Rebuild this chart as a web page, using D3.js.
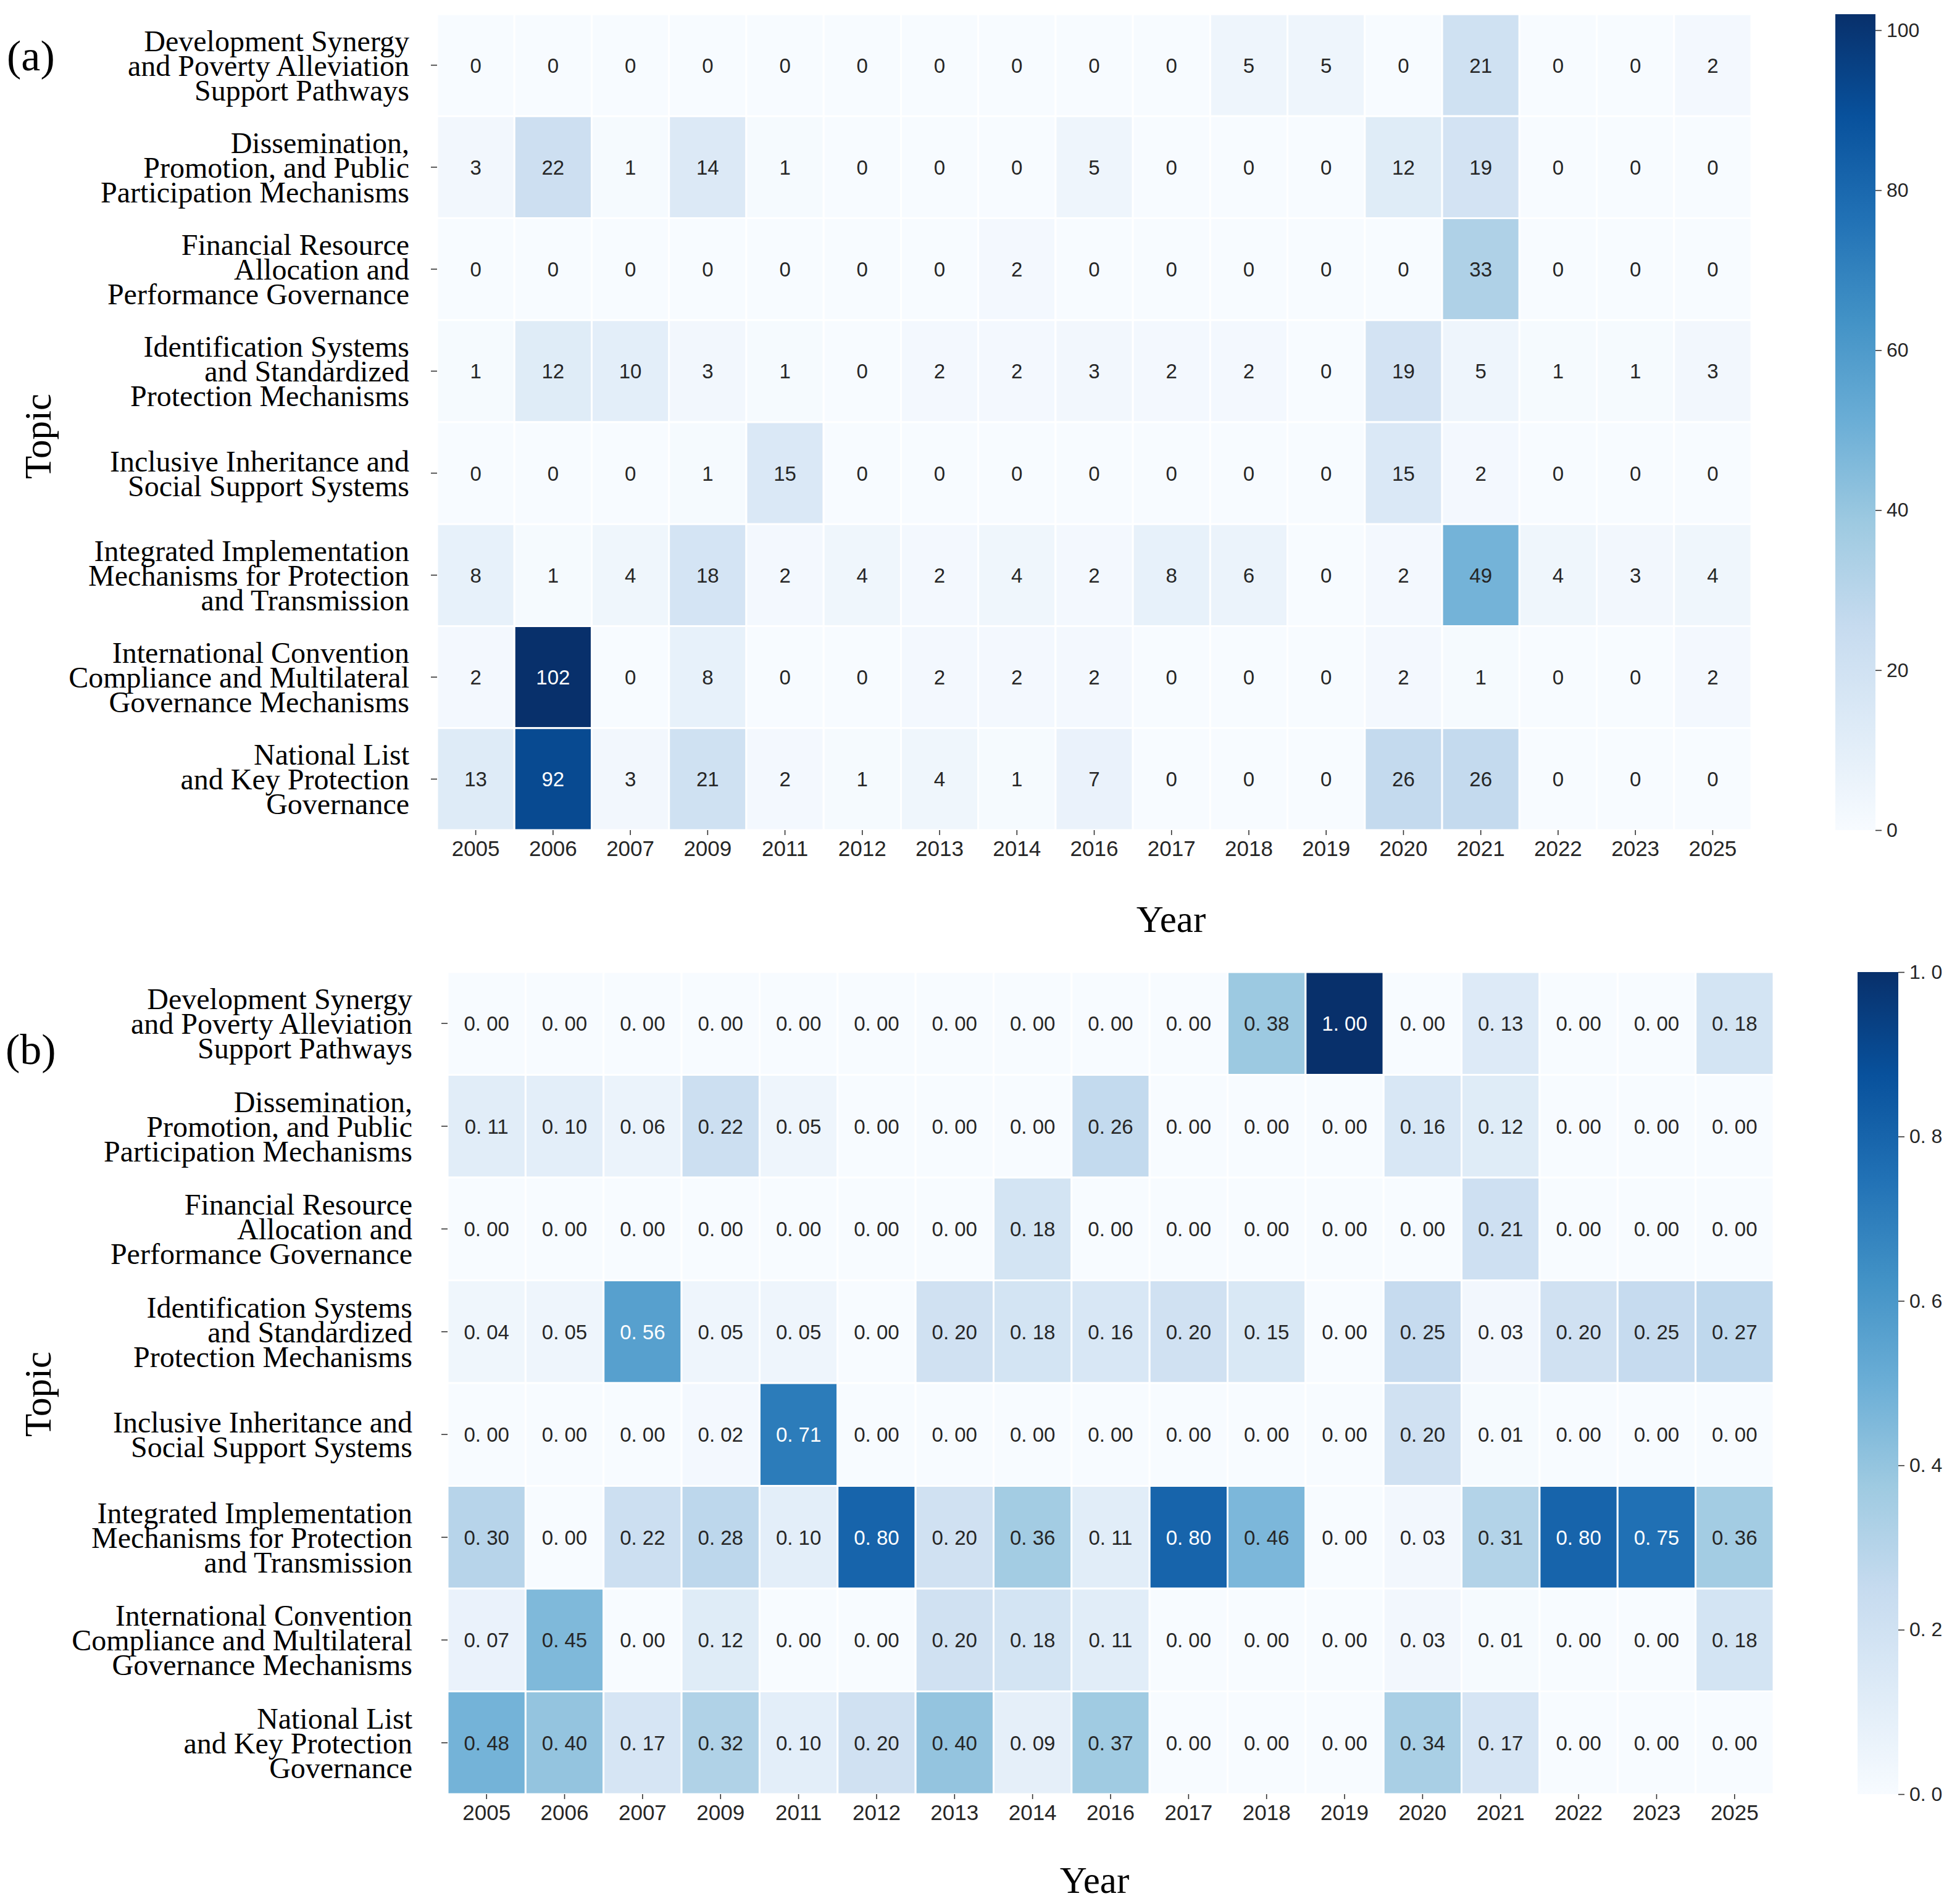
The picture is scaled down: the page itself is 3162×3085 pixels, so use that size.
<!DOCTYPE html>
<html lang="en">
<head>
  <meta charset="UTF-8">
  <title>Topic by Year Heatmaps</title>
  <script src="https://d3js.org/d3.v7.min.js"></script>
  <style>
    body {
      margin: 0;
      background-color: #ffffff;
    }
    svg {
      display: block;
    }
    .row-label {
      font-family: 'Liberation Serif', 'Times New Roman', serif;
      font-size: 48px;
      fill: #000000;
    }
    .axis-title {
      font-family: 'Liberation Serif', 'Times New Roman', serif;
      font-size: 61px;
      fill: #000000;
    }
    .panel-tag {
      font-family: 'Liberation Serif', 'Times New Roman', serif;
      font-size: 70px;
      fill: #000000;
    }
    .cell-text {
      font-family: 'Liberation Sans', Arial, sans-serif;
      font-size: 33px;
    }
    .year-axis text {
      font-family: 'Liberation Sans', Arial, sans-serif;
      font-size: 35px;
      fill: #262626;
    }
    .cbar-axis text {
      font-family: 'Liberation Sans', Arial, sans-serif;
      font-size: 32px;
      fill: #262626;
    }
    .tick line {
      stroke: #333333;
      stroke-width: 1.6px;
    }
  </style>
</head>
<body>
  <svg width="3162" height="3085"></svg>
  <script>
    // ---- data ----
    const years = ["2005", "2006", "2007", "2009", "2011", "2012", "2013", "2014", "2016",
                   "2017", "2018", "2019", "2020", "2021", "2022", "2023", "2025"];

    const topics = [
      ["Development Synergy", "and Poverty Alleviation", "Support Pathways"],
      ["Dissemination,", "Promotion, and Public", "Participation Mechanisms"],
      ["Financial Resource", "Allocation and", "Performance Governance"],
      ["Identification Systems", "and Standardized", "Protection Mechanisms"],
      ["Inclusive Inheritance and", "Social Support Systems"],
      ["Integrated Implementation", "Mechanisms for Protection", "and Transmission"],
      ["International Convention", "Compliance and Multilateral", "Governance Mechanisms"],
      ["National List", "and Key Protection", "Governance"]
    ];

    // (a) counts
    const counts = [
      [0, 0, 0, 0, 0, 0, 0, 0, 0, 0, 5, 5, 0, 21, 0, 0, 2],
      [3, 22, 1, 14, 1, 0, 0, 0, 5, 0, 0, 0, 12, 19, 0, 0, 0],
      [0, 0, 0, 0, 0, 0, 0, 2, 0, 0, 0, 0, 0, 33, 0, 0, 0],
      [1, 12, 10, 3, 1, 0, 2, 2, 3, 2, 2, 0, 19, 5, 1, 1, 3],
      [0, 0, 0, 1, 15, 0, 0, 0, 0, 0, 0, 0, 15, 2, 0, 0, 0],
      [8, 1, 4, 18, 2, 4, 2, 4, 2, 8, 6, 0, 2, 49, 4, 3, 4],
      [2, 102, 0, 8, 0, 0, 2, 2, 2, 0, 0, 0, 2, 1, 0, 0, 2],
      [13, 92, 3, 21, 2, 1, 4, 1, 7, 0, 0, 0, 26, 26, 0, 0, 0]
    ];

    // (b) shares
    const shares = [
      [0.00, 0.00, 0.00, 0.00, 0.00, 0.00, 0.00, 0.00, 0.00, 0.00, 0.38, 1.00, 0.00, 0.13, 0.00, 0.00, 0.18],
      [0.11, 0.10, 0.06, 0.22, 0.05, 0.00, 0.00, 0.00, 0.26, 0.00, 0.00, 0.00, 0.16, 0.12, 0.00, 0.00, 0.00],
      [0.00, 0.00, 0.00, 0.00, 0.00, 0.00, 0.00, 0.18, 0.00, 0.00, 0.00, 0.00, 0.00, 0.21, 0.00, 0.00, 0.00],
      [0.04, 0.05, 0.56, 0.05, 0.05, 0.00, 0.20, 0.18, 0.16, 0.20, 0.15, 0.00, 0.25, 0.03, 0.20, 0.25, 0.27],
      [0.00, 0.00, 0.00, 0.02, 0.71, 0.00, 0.00, 0.00, 0.00, 0.00, 0.00, 0.00, 0.20, 0.01, 0.00, 0.00, 0.00],
      [0.30, 0.00, 0.22, 0.28, 0.10, 0.80, 0.20, 0.36, 0.11, 0.80, 0.46, 0.00, 0.03, 0.31, 0.80, 0.75, 0.36],
      [0.07, 0.45, 0.00, 0.12, 0.00, 0.00, 0.20, 0.18, 0.11, 0.00, 0.00, 0.00, 0.03, 0.01, 0.00, 0.00, 0.18],
      [0.48, 0.40, 0.17, 0.32, 0.10, 0.20, 0.40, 0.09, 0.37, 0.00, 0.00, 0.00, 0.34, 0.17, 0.00, 0.00, 0.00]
    ];

    const countMax = 102;
    const countTicks = [0, 20, 40, 60, 80, 100];
    const shareMax = 1;
    const shareTicks = [0, 0.2, 0.4, 0.6, 0.8, 1.0];

    // matplotlib "Blues" stops (linear in RGB)
    const blues = ["#f7fbff", "#deebf7", "#c6dbef", "#9ecae1", "#6baed6",
                   "#4292c6", "#2171b5", "#08519c", "#08306b"];
    const bluesScale = d3.scaleLinear()
      .domain(blues.map((c, i) => i / (blues.length - 1)))
      .range(blues)
      .interpolate(d3.interpolateRgb)
      .clamp(true);

    function cmap(t) {
      // 256-level lookup like matplotlib
      const idx = Math.min(255, Math.floor(t * 256));
      return bluesScale(idx / 255);
    }

    function luminance(col) {
      const c = d3.rgb(col);
      const lin = v => {
        v = v / 255;
        return v <= 0.03928 ? v / 12.92 : Math.pow((v + 0.055) / 1.055, 2.4);
      };
      return 0.2126 * lin(c.r) + 0.7152 * lin(c.g) + 0.0722 * lin(c.b);
    }

    const svg = d3.select("svg");
    const defs = svg.append("defs");

    function drawPanel(p) {
      const g = svg.append("g");

      const x = d3.scaleBand().domain(years).range([p.x0, p.x1]);
      const y = d3.scaleBand().domain(d3.range(topics.length)).range([p.y0, p.y1]);

      const cells = [];
      p.values.forEach((row, i) => row.forEach((v, j) => cells.push({ i, j, v })));

      g.selectAll("rect.cell")
        .data(cells)
        .join("rect")
        .attr("class", "cell")
        .attr("x", d => x(years[d.j]))
        .attr("y", d => y(d.i))
        .attr("width", x.bandwidth())
        .attr("height", y.bandwidth())
        .attr("fill", d => cmap(d.v / p.vmax))
        .attr("stroke", "#ffffff")
        .attr("stroke-width", 3);

      g.selectAll("text.cell-text")
        .data(cells)
        .join("text")
        .attr("class", "cell-text")
        .attr("x", d => x(years[d.j]) + x.bandwidth() / 2)
        .attr("y", d => y(d.i) + y.bandwidth() / 2)
        .attr("dy", "0.36em")
        .attr("text-anchor", "middle")
        .attr("fill", d => luminance(cmap(d.v / p.vmax)) > 0.408 ? "#262626" : "#ffffff")
        .text(d => p.fmt(d.v));

      // year axis
      const xAxis = g.append("g")
        .attr("class", "year-axis")
        .attr("transform", `translate(0,${p.y1})`)
        .call(d3.axisBottom(x).tickSize(8).tickPadding(9));
      xAxis.select(".domain").remove();

      // topic axis, labels split over lines
      const yAxis = g.append("g")
        .attr("transform", `translate(${p.x0},0)`)
        .call(d3.axisLeft(y).tickSize(10).tickPadding(p.labelPad).tickFormat(""));
      yAxis.select(".domain").remove();
      yAxis.selectAll(".tick text").remove();

      const lineH = 40;
      topics.forEach((lines, i) => {
        const cy = y(i) + y.bandwidth() / 2;
        const t = g.append("text")
          .attr("class", "row-label")
          .attr("text-anchor", "end");
        lines.forEach((ln, k) => {
          t.append("tspan")
            .attr("x", p.x0 - 10 - p.labelPad)
            .attr("y", cy + (k - (lines.length - 1) / 2) * lineH + 17)
            .text(ln);
        });
      });

      // colorbar
      const gid = "grad-" + p.tag;
      const grad = defs.append("linearGradient")
        .attr("id", gid)
        .attr("x1", 0).attr("y1", 1).attr("x2", 0).attr("y2", 0);
      grad.selectAll("stop")
        .data(blues)
        .join("stop")
        .attr("offset", (c, i) => i / (blues.length - 1))
        .attr("stop-color", c => c);

      g.append("rect")
        .attr("x", p.cbx0)
        .attr("y", p.y0)
        .attr("width", p.cbx1 - p.cbx0)
        .attr("height", p.y1 - p.y0)
        .attr("fill", `url(#${gid})`);

      const cscale = d3.scaleLinear().domain([0, p.vmax]).range([p.y1, p.y0]);
      const cAxis = g.append("g")
        .attr("class", "cbar-axis")
        .attr("transform", `translate(${p.cbx1},0)`)
        .call(d3.axisRight(cscale).tickValues(p.ticks).tickSize(10).tickPadding(8).tickFormat(p.tickFmt));
      cAxis.select(".domain").remove();

      // titles
      svg.append("text")
        .attr("class", "axis-title")
        .attr("x", p.yearX)
        .attr("y", p.yearY)
        .attr("text-anchor", "middle")
        .text("Year");

      svg.append("text")
        .attr("class", "axis-title")
        .attr("transform", `translate(82,${p.topicY}) rotate(-90)`)
        .attr("text-anchor", "middle")
        .text("Topic");

      svg.append("text")
        .attr("class", "panel-tag")
        .attr("x", p.tagX)
        .attr("y", p.tagY)
        .text(`(${p.tag})`);
    }

    drawPanel({
      tag: "a",
      values: counts,
      vmax: countMax,
      ticks: countTicks,
      fmt: d3.format("d"),
      tickFmt: d3.format("d"),
      x0: 708, x1: 2837, y0: 23, y1: 1345,
      cbx0: 2973, cbx1: 3038,
      labelPad: 35,
      yearX: 1897, yearY: 1510,
      topicY: 707,
      tagX: 11, tagY: 114
    });

    drawPanel({
      tag: "b",
      values: shares,
      vmax: shareMax,
      ticks: shareTicks,
      fmt: v => d3.format(".2f")(v).replace(".", ". "),
      tickFmt: v => d3.format(".1f")(v).replace(".", ". "),
      x0: 725, x1: 2873, y0: 1575, y1: 2907,
      cbx0: 3009, cbx1: 3075,
      labelPad: 47,
      yearX: 1773, yearY: 3067,
      topicY: 2259,
      tagX: 9, tagY: 1724
    });
  </script>
</body>
</html>
